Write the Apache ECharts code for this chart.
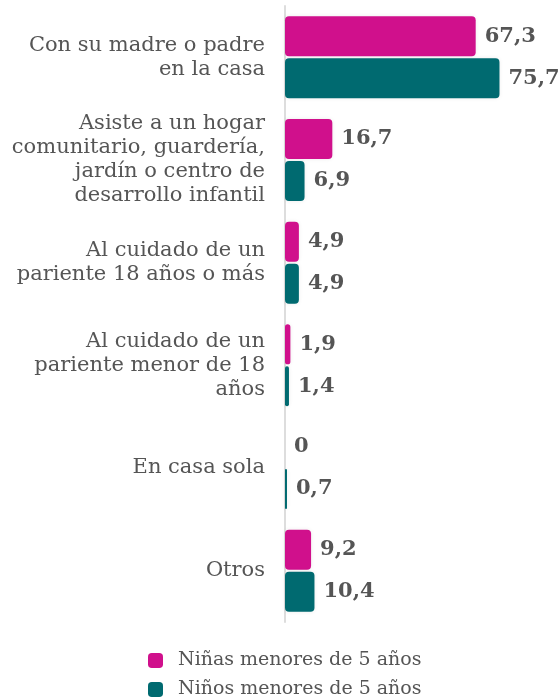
<!DOCTYPE html>
<html>
<head>
<meta charset="utf-8">
<script src="https://cdn.jsdelivr.net/npm/echarts@6/dist/echarts.min.js"></script>
<style>
  html, body { margin: 0; padding: 0; background: #fff; }
  #chart { width: 560px; height: 700px; }
</style>
</head>
<body>
<div id="chart"></div>
<script>
const categories = [
  "Con su madre o padre\nen la casa",
  "Asiste a un hogar\ncomunitario, guardería,\njardín o centro de\ndesarrollo infantil",
  "Al cuidado de un\npariente 18 años o más",
  "Al cuidado de un\npariente menor de 18\naños",
  "En casa sola",
  "Otros"
];
const ninas = [67.3, 16.7, 4.9, 1.9, 0, 9.2];
const ninos = [75.7, 6.9, 4.9, 1.4, 0.7, 10.4];
const seriesNames = ["Niñas menores de 5 años", "Niños menores de 5 años"];

const textColor = "#555555";
const serif = "DejaVu Serif";

const chart = echarts.init(document.getElementById("chart"));

function barSeries(name, data, color) {
  return {
    name: name,
    type: "bar",
    data: data,
    barWidth: 40,
    barGap: "5%",
    itemStyle: {
      color: color,
      borderRadius: 4,
      shadowBlur: 4,
      shadowColor: "rgba(0,0,0,0.08)"
    },
    label: {
      show: true,
      position: "right",
      distance: 9,
      color: textColor,
      fontFamily: serif,
      fontWeight: "bold",
      fontSize: 21,
      formatter: (p) => String(p.value).replace(".", ",")
    }
  };
}

chart.setOption({
  animation: false,
  grid: { left: 285, right: 20, top: 6, bottom: 78 },
  legend: {
    orient: "vertical",
    left: 148,
    bottom: 1,
    padding: 0,
    itemWidth: 15,
    itemHeight: 15,
    itemGap: 10,
    icon: "roundRect",
    textStyle: { color: textColor, fontFamily: serif, fontSize: 19, padding: [0, 0, 0, 10] },
    data: seriesNames
  },
  xAxis: {
    type: "value",
    min: 0,
    max: 90,
    show: false
  },
  yAxis: {
    type: "category",
    inverse: true,
    data: categories,
    axisTick: { show: false },
    axisLine: { show: true, lineStyle: { color: "#dddddd", width: 2 } },
    axisLabel: {
      color: textColor,
      fontFamily: serif,
      fontSize: 21,
      lineHeight: 24,
      margin: 20,
      align: "right"
    }
  },
  series: [
    barSeries(seriesNames[0], ninas, "#d0108c"),
    barSeries(seriesNames[1], ninos, "#006a70")
  ]
});
</script>
</body>
</html>
